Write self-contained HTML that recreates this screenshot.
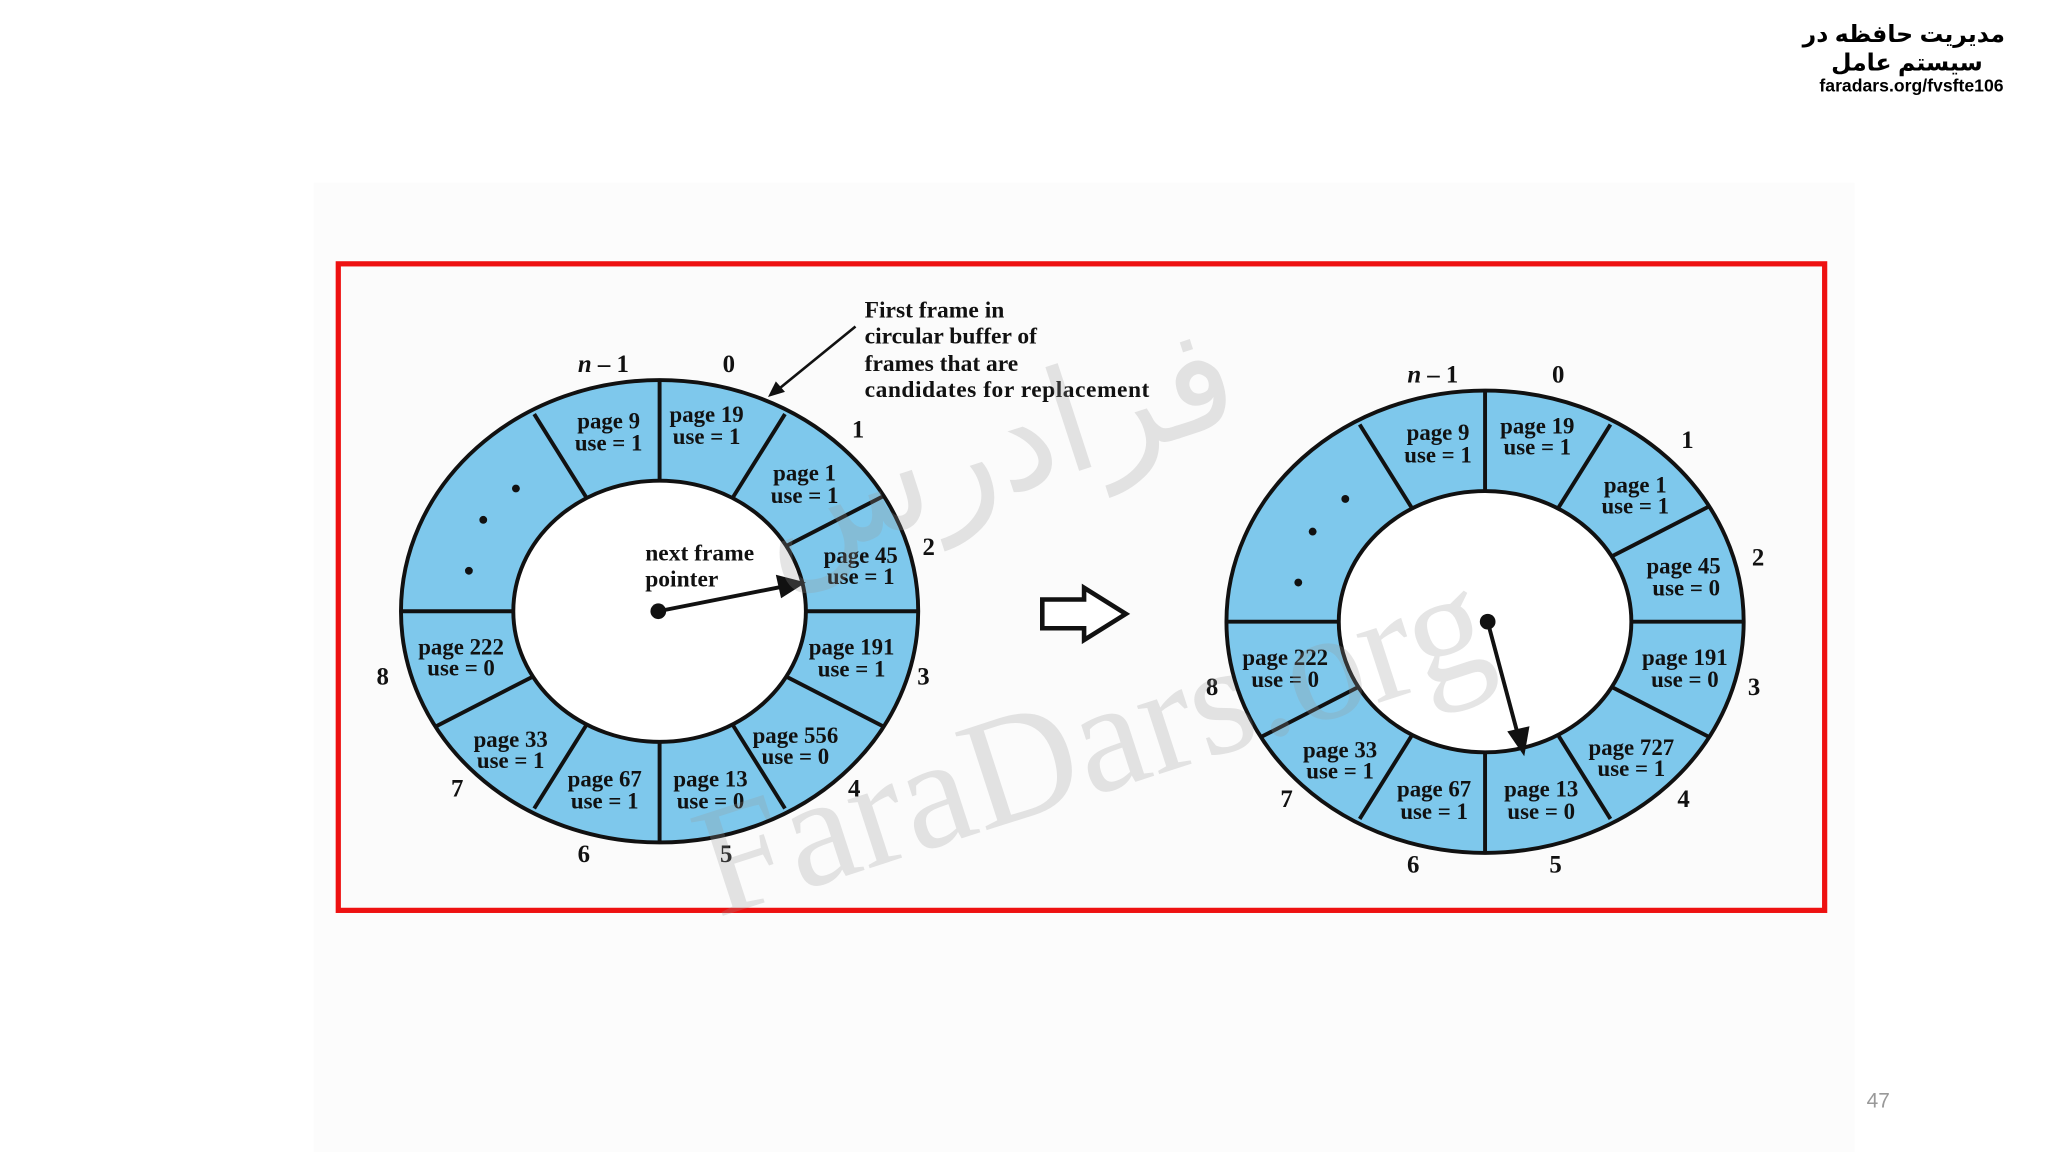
<!DOCTYPE html>
<html><head><meta charset="utf-8"><style>
html,body{margin:0;padding:0;background:#fff;}
svg{display:block}
</style></head><body>
<svg xmlns="http://www.w3.org/2000/svg" width="2048" height="1152" viewBox="0 0 1568 882">
<rect x="0" y="0" width="1568" height="882" fill="#fff"/>
<rect x="240" y="140" width="1180" height="742" fill="#fcfcfc"/>
<rect x="259" y="202" width="1138" height="495" fill="#fbfbfb" stroke="#ee1111" stroke-width="4"/>

<g font-family="Liberation Sans, DejaVu Sans, sans-serif" font-weight="bold" fill="#000" text-anchor="end">
<text x="1535" y="32" font-size="18">مدیریت حافظه در</text>
<text x="1518" y="54" font-size="18">سیستم عامل</text>
<text x="1534" y="70" font-size="13.5">faradars.org/fvsfte106</text>
</g>
<text x="1438" y="848" font-family="Liberation Sans, sans-serif" font-size="16" fill="#999" text-anchor="middle">47</text>

<!-- Left ring -->
<g stroke="#111" stroke-width="3">
<ellipse cx="505" cy="468" rx="198" ry="177" fill="#7ec8ec"/>
<ellipse cx="505" cy="468" rx="112" ry="100" fill="#fff"/>
<line x1="505" y1="291" x2="505" y2="368"/>
<line x1="505" y1="568" x2="505" y2="645"/>
<line x1="307" y1="468" x2="393" y2="468"/>
<line x1="617" y1="468" x2="703" y2="468"/>
<line x1="601" y1="317" x2="561" y2="381"/>
<line x1="676" y1="380" x2="602" y2="418"/>
<line x1="676" y1="556" x2="602" y2="518"/>
<line x1="601" y1="619" x2="561" y2="555"/>
<line x1="409" y1="619" x2="449" y2="555"/>
<line x1="334" y1="556" x2="408" y2="518"/>
<line x1="409" y1="317" x2="449" y2="381"/>
</g>
<g fill="#111"><circle cx="395" cy="374" r="3"/><circle cx="370" cy="398" r="3"/><circle cx="359" cy="437" r="3"/></g>
<g font-family="Liberation Serif, serif" font-weight="bold" font-size="17.5" fill="#111" text-anchor="middle">
<text x="466" y="328">page 9</text><text x="466" y="345">use = 1</text>
<text x="541" y="323">page 19</text><text x="541" y="340">use = 1</text>
<text x="616" y="368">page 1</text><text x="616" y="385">use = 1</text>
<text x="659" y="431">page 45</text><text x="659" y="447">use = 1</text>
<text x="652" y="501">page 191</text><text x="652" y="518">use = 1</text>
<text x="609" y="569">page 556</text><text x="609" y="585">use = 0</text>
<text x="544" y="602">page 13</text><text x="544" y="619">use = 0</text>
<text x="463" y="602">page 67</text><text x="463" y="619">use = 1</text>
<text x="391" y="572">page 33</text><text x="391" y="588">use = 1</text>
<text x="353" y="501">page 222</text><text x="353" y="517">use = 0</text>
<g font-size="19">
<text x="462" y="285"><tspan font-style="italic">n</tspan> – 1</text>
<text x="558" y="285">0</text><text x="657" y="335">1</text><text x="711" y="425">2</text>
<text x="707" y="524">3</text><text x="654" y="610">4</text><text x="556" y="660">5</text>
<text x="447" y="660">6</text><text x="350" y="610">7</text><text x="293" y="524">8</text>
</g>
</g>
<g font-family="Liberation Serif, serif" font-weight="bold" font-size="18" fill="#111">
<text x="662" y="243">First frame in</text>
<text x="662" y="263">circular buffer of</text>
<text x="662" y="284">frames that are</text>
<text x="662" y="304" textLength="218">candidates for replacement</text>
<text x="494" y="429">next frame</text>
<text x="494" y="449">pointer</text>
</g>
<line x1="655" y1="250" x2="596" y2="298" stroke="#111" stroke-width="2"/>
<polygon points="588,304 594,292 601,300" fill="#111"/>
<circle cx="504" cy="468" r="6" fill="#111"/>
<line x1="504" y1="468" x2="600" y2="449" stroke="#111" stroke-width="3"/>
<polygon points="617,446 594,440 598,458" fill="#111"/>

<!-- Hollow arrow -->
<polygon points="798,459 830,459 830,450 862,470 830,490 830,481 798,481" fill="#fff" stroke="#111" stroke-width="3.5" stroke-linejoin="miter"/>

<!-- Right ring -->
<g transform="translate(632,8)">
<g stroke="#111" stroke-width="3">
<ellipse cx="505" cy="468" rx="198" ry="177" fill="#7ec8ec"/>
<ellipse cx="505" cy="468" rx="112" ry="100" fill="#fff"/>
<line x1="505" y1="291" x2="505" y2="368"/>
<line x1="505" y1="568" x2="505" y2="645"/>
<line x1="307" y1="468" x2="393" y2="468"/>
<line x1="617" y1="468" x2="703" y2="468"/>
<line x1="601" y1="317" x2="561" y2="381"/>
<line x1="676" y1="380" x2="602" y2="418"/>
<line x1="676" y1="556" x2="602" y2="518"/>
<line x1="601" y1="619" x2="561" y2="555"/>
<line x1="409" y1="619" x2="449" y2="555"/>
<line x1="334" y1="556" x2="408" y2="518"/>
<line x1="409" y1="317" x2="449" y2="381"/>
</g>
<g fill="#111"><circle cx="398" cy="374" r="3"/><circle cx="373" cy="399" r="3"/><circle cx="362" cy="438" r="3"/></g>
</g>
<g font-family="Liberation Serif, serif" font-weight="bold" font-size="17.5" fill="#111" text-anchor="middle">
<text x="1101" y="337">page 9</text><text x="1101" y="354">use = 1</text>
<text x="1177" y="332">page 19</text><text x="1177" y="348">use = 1</text>
<text x="1252" y="377">page 1</text><text x="1252" y="393">use = 1</text>
<text x="1289" y="439">page 45</text><text x="1291" y="456">use = 0</text>
<text x="1290" y="509">page 191</text><text x="1290" y="526">use = 0</text>
<text x="1249" y="578">page 727</text><text x="1249" y="594">use = 1</text>
<text x="1180" y="610">page 13</text><text x="1180" y="627">use = 0</text>
<text x="1098" y="610">page 67</text><text x="1098" y="627">use = 1</text>
<text x="1026" y="580">page 33</text><text x="1026" y="596">use = 1</text>
<text x="984" y="509">page 222</text><text x="984" y="526">use = 0</text>
<g font-size="19">
<text x="1097" y="293"><tspan font-style="italic">n</tspan> – 1</text>
<text x="1193" y="293">0</text><text x="1292" y="343">1</text><text x="1346" y="433">2</text>
<text x="1343" y="532">3</text><text x="1289" y="618">4</text><text x="1191" y="668">5</text>
<text x="1082" y="668">6</text><text x="985" y="618">7</text><text x="928" y="532">8</text>
</g>
</g>
<circle cx="1139" cy="476" r="6" fill="#111"/>
<line x1="1139" y1="476" x2="1162" y2="562" stroke="#111" stroke-width="3"/>
<polygon points="1167,579 1154,560 1171,556" fill="#111"/>

<!-- watermark -->
<g font-family="Liberation Serif, serif" fill="#999" opacity="0.25" transform="rotate(-18 820 520)">
<text x="820" y="610" font-size="120" text-anchor="middle">FaraDars.org</text>
</g>
<g font-family="DejaVu Sans, sans-serif" fill="#999" opacity="0.25" transform="rotate(-18 760 340)">
<text x="760" y="380" font-size="110" text-anchor="middle">فرادرس</text>
</g>
</svg>
</body></html>
